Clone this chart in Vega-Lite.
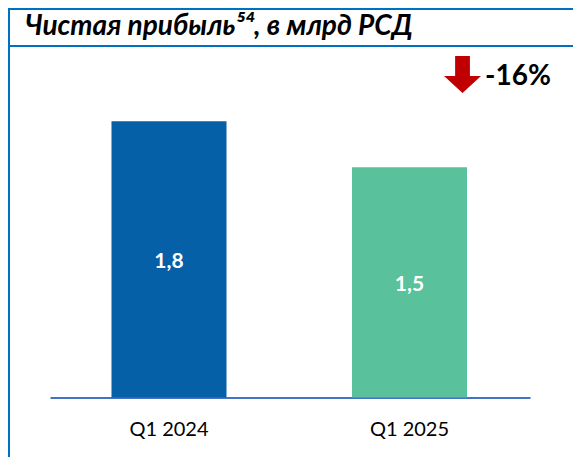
{
  "$schema": "https://vega.github.io/schema/vega-lite/v6.json",
  "width": 580,
  "height": 470,
  "autosize": {"type": "none"},
  "padding": {"left": 9, "top": 9, "right": -16, "bottom": -22},
  "background": "white",
  "config": {
    "view": {"stroke": "#0070C0", "strokeWidth": 2},
    "font": "Lato"
  },
  "data": {
    "values": [
      {"quarter": "Q1 2024", "value": 1.8, "label": "1,8"},
      {"quarter": "Q1 2025", "value": 1.5, "label": "1,5"}
    ]
  },
  "resolve": {"scale": {"y": "independent"}},
  "layer": [
    {
      "layer": [
        {
          "mark": {"type": "bar"},
          "encoding": {
            "x": {
              "field": "quarter",
              "type": "nominal",
              "sort": null,
              "scale": {"range": [41, 521], "paddingInner": 0.5218, "paddingOuter": 0.2588, "align": 0.494},
              "axis": {
                "orient": "bottom",
                "offset": -81.5,
                "title": null,
                "domain": true,
                "domainColor": "#4472C4",
                "domainWidth": 2,
                "ticks": false,
                "labelAngle": 0,
                "labelPadding": 38,
                "labelBaseline": "alphabetic",
                "labelFont": "Lato",
                "labelFontSize": 20,
                "labelColor": "#000000"
              }
            },
            "y": {
              "field": "value",
              "type": "quantitative",
              "scale": {"domain": [-0.5309, 2.5309], "nice": false, "zero": false},
              "axis": null
            },
            "y2": {"datum": 0},
            "color": {
              "field": "quarter",
              "type": "nominal",
              "scale": {"range": ["#0560A8", "#59C19C"]},
              "legend": null
            }
          }
        },
        {
          "data": {"values": [{"change": "-16%", "title": "Чистая прибыль⁵⁴, в млрд РСД"}]},
          "mark": {"type": "rule", "color": "#0070C0", "strokeWidth": 2},
          "encoding": {"y": {"datum": 2.29}}
        },
        {
          "data": {"values": [{"change": "-16%", "title": "Чистая прибыль⁵⁴, в млрд РСД"}]},
          "mark": {
            "type": "text",
            "align": "left",
            "baseline": "alphabetic",
            "font": "Lato",
            "fontSize": 28,
            "fontWeight": "bold",
            "fontStyle": "italic",
            "color": "#000000"
          },
          "encoding": {
            "x": {"datum": "Q1 2024", "bandPosition": -0.752},
            "y": {"datum": 2.3616},
            "text": {"field": "title"}
          }
        },
        {
          "data": {"values": [{"change": "-16%", "title": "Чистая прибыль⁵⁴, в млрд РСД"}]},
          "mark": {
            "type": "point",
            "shape": "M-0.4,-1L0.4,-1L0.4,0.08L1,0.08L0,1L-1,0.08L-0.4,0.08Z",
            "filled": true,
            "color": "#C00000",
            "opacity": 1,
            "strokeWidth": 0,
            "size": 1369
          },
          "encoding": {
            "x": {"datum": "Q1 2025", "bandPosition": 0.961},
            "y": {"datum": 2.104}
          }
        },
        {
          "data": {"values": [{"change": "-16%", "title": "Чистая прибыль⁵⁴, в млрд РСД"}]},
          "mark": {
            "type": "text",
            "align": "left",
            "baseline": "alphabetic",
            "font": "Lato",
            "fontSize": 28,
            "fontWeight": "bold",
            "color": "#000000"
          },
          "encoding": {
            "x": {"datum": "Q1 2025", "bandPosition": 1.157},
            "y": {"datum": 2.036},
            "text": {"field": "change"}
          }
        }
      ]
    },
    {
      "mark": {
        "type": "text",
        "baseline": "middle",
        "align": "center",
        "dy": 3,
        "font": "Lato",
        "fontSize": 21,
        "fontWeight": "bold",
        "color": "#FFFFFF"
      },
      "encoding": {
        "x": {"field": "quarter", "type": "nominal", "sort": null},
        "y": {
          "field": "value",
          "type": "quantitative",
          "scale": {"domain": [-1.0618, 5.0618], "nice": false, "zero": false},
          "axis": null
        },
        "text": {"field": "label"}
      }
    }
  ]
}
